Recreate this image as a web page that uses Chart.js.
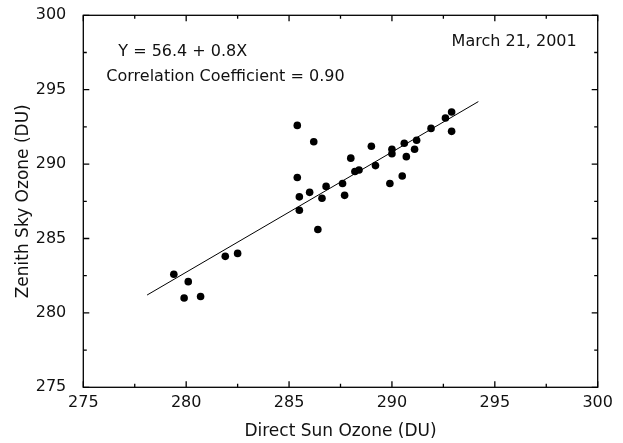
<!DOCTYPE html>
<html>
<head>
<meta charset="utf-8">
<script src="https://cdn.jsdelivr.net/npm/chart.js@4"></script>
<style>
 html, body { margin: 0; padding: 0; background: #fff; }
</style>
</head>
<body>
<canvas id="ozone-chart" width="623" height="443"></canvas>
<script>
// Data
const directSun = [279.4, 280.1, 279.9, 280.7, 281.9, 282.5, 285.4, 286.2, 289.0, 288.0, 290.0, 290.0,
 289.2, 288.4, 288.2, 285.4, 287.6, 289.9, 286.8, 286.0, 285.5, 286.6, 287.7, 285.5, 286.4,
 292.9, 292.6, 292.9, 291.9, 291.2, 290.6, 291.1, 290.7, 290.5];
const zenithSky = [282.6, 282.1, 281.0, 281.1, 283.8, 284.0, 292.6, 291.5, 291.2, 290.4, 291.0, 290.7,
 289.9, 289.6, 289.5, 289.1, 288.7, 288.7, 288.5, 288.1, 287.8, 287.7, 287.9, 286.9, 285.6,
 293.5, 293.1, 292.2, 292.4, 291.6, 291.4, 291.0, 290.5, 289.2];
const fitX = [278.1, 294.2];
const fitY = [281.2, 294.2];
const axisMin = 275;
const axisMax = 300;
const majorStep = 5;
const minorStep = 2.5;
const equationText = "Y = 56.4 + 0.8X";
const correlationText = "Correlation Coefficient = 0.90";
const dateText = "March 21, 2001";

const fontFamily = "'DejaVu Sans', sans-serif";
const textColor = "#111";

// Box with inward ticks on all four sides, plus the text notes
const frameAndNotes = {
 id: "frameAndNotes",
 afterDraw(chart) {
  const { ctx, chartArea: a, scales: { x, y } } = chart;
  ctx.save();
  ctx.strokeStyle = "#000";
  ctx.lineWidth = 1.3;
  ctx.strokeRect(a.left, a.top, a.width, a.height);
  ctx.beginPath();
  for (let v = axisMin; v <= axisMax; v += minorStep) {
   const len = v % majorStep === 0 ? 6 : 3.5;
   const px = x.getPixelForValue(v);
   const py = y.getPixelForValue(v);
   ctx.moveTo(px, a.bottom); ctx.lineTo(px, a.bottom - len);
   ctx.moveTo(px, a.top); ctx.lineTo(px, a.top + len);
   ctx.moveTo(a.left, py); ctx.lineTo(a.left + len, py);
   ctx.moveTo(a.right, py); ctx.lineTo(a.right - len, py);
  }
  ctx.stroke();

  ctx.fillStyle = textColor;
  ctx.font = "16px " + fontFamily;
  ctx.textBaseline = "alphabetic";
  ctx.textAlign = "left";
  ctx.fillText(equationText, a.left + 35, a.top + 41);
  ctx.fillText(correlationText, a.left + 23, a.top + 66);
  ctx.textAlign = "right";
  ctx.fillText(dateText, a.right - 21, a.top + 31);
  ctx.restore();
 },
};

const points = directSun.map((x, i) => ({ x: x, y: zenithSky[i] }));
const fitPoints = fitX.map((x, i) => ({ x: x, y: fitY[i] }));

const tickFont = { family: fontFamily, size: 16 };
const titleFont = { family: fontFamily, size: 17 };

new Chart(document.getElementById("ozone-chart"), {
 type: "scatter",
 data: {
  datasets: [
   {
    data: points,
    pointRadius: 3.8,
    pointBackgroundColor: "#000",
    pointBorderWidth: 0,
   },
   {
    type: "line",
    data: fitPoints,
    borderColor: "#000",
    borderWidth: 1,
    pointRadius: 0,
    fill: false,
   },
  ],
 },
 options: {
  responsive: false,
  animation: false,
  devicePixelRatio: 1,
  layout: { padding: { top: 15.3, right: 25.3, bottom: 0, left: 0 } },
  plugins: {
   legend: { display: false },
   tooltip: { enabled: false },
  },
  scales: {
   x: {
    type: "linear",
    min: axisMin,
    max: axisMax,
    grid: { display: false, drawTicks: false, tickLength: 0 },
    border: { display: false },
    ticks: { stepSize: majorStep, font: tickFont, color: textColor, padding: 6 },
    title: { display: true, text: "Direct Sun Ozone (DU)", font: titleFont, color: textColor, padding: { top: 0, bottom: 1 } },
    afterFit: (scale) => { scale.height = 55.7; },
   },
   y: {
    type: "linear",
    min: axisMin,
    max: axisMax,
    grid: { display: false, drawTicks: false, tickLength: 0 },
    border: { display: false },
    ticks: { stepSize: majorStep, font: tickFont, color: textColor, padding: 17 },
    title: { display: true, text: "Zenith Sky Ozone (DU)", font: titleFont, color: textColor, padding: { top: 13, bottom: 0 } },
    afterFit: (scale) => {
     scale.width = 83.3;
     scale.paddingTop = 0;
     scale.paddingBottom = 0;
    },
   },
  },
 },
 plugins: [frameAndNotes],
});
</script>
</body>
</html>
